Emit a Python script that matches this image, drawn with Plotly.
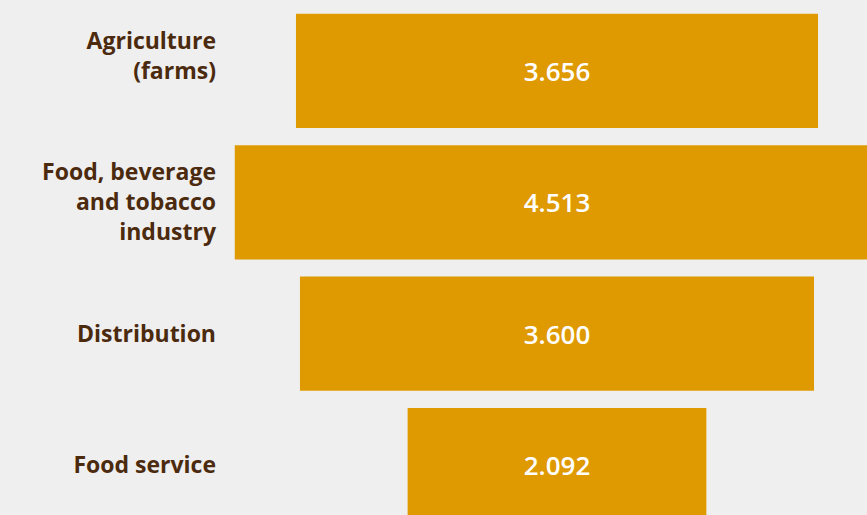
import plotly.graph_objects as go

# sectors of the food chain (top to bottom)
sectors = ["Agriculture<br>(farms)<br>&nbsp;", "Food, beverage<br>and tobacco<br>industry", "Distribution", "Food service"]
values = [3656, 4513, 3600, 2092]

bar_color = "#DF9A02"
label_color = "#4B2A0E"

fig = go.Figure(go.Funnel(
    y=sectors,
    x=values,
    texttemplate="%{value:,.0f}",
    textposition="inside",
    insidetextanchor="middle",
    textfont=dict(family="Open Sans", size=26, color="white", weight=600),
    marker=dict(color=bar_color, line=dict(width=0)),
    connector=dict(visible=False),
    hoverinfo="y+x",
))

fig.update_layout(
    width=867, height=515,
    margin=dict(l=230, r=0, t=0, b=0),
    paper_bgcolor="#efefef",
    plot_bgcolor="rgba(0,0,0,0)",
    separators=",.",
    funnelgap=0.13,
    showlegend=False,
    font=dict(family="Open Sans", color=label_color),
)
fig.update_xaxes(visible=False, range=[-2290, 2171])
fig.update_yaxes(
    range=[3.38, -0.54],
    showgrid=False, zeroline=False, showline=False,
    ticks="", ticklabelstandoff=13,
    tickfont=dict(family="Open Sans", size=23, color=label_color, weight="bold"),
)

# drop the default page margin so the chart sits at the window's corner
fig.write_html(
    "out.html",
    config={"displayModeBar": False},
    post_script="document.body.style.margin='0';document.body.style.background='#efefef';",
)
